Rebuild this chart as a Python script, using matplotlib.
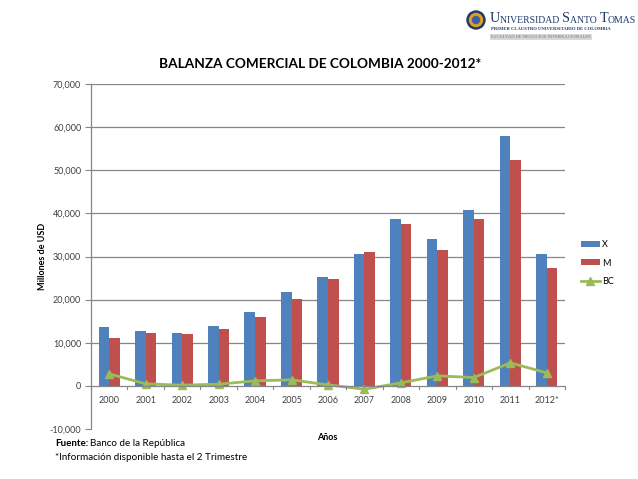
import matplotlib
matplotlib.use("Agg")
import matplotlib.pyplot as plt
import numpy as np
from matplotlib.ticker import FuncFormatter
from matplotlib.patches import Circle

plt.rcParams['font.family'] = ['Lato', 'DejaVu Sans']

# datos (millones de USD)
years = ['2000', '2001', '2002', '2003', '2004', '2005', '2006',
         '2007', '2008', '2009', '2010', '2011', '2012*']
exports = [13720, 12790, 12330, 13800, 17210, 21780, 25190,
           30620, 38590, 34030, 40840, 57850, 30630]
imports = [11090, 12250, 12020, 13260, 15890, 20230, 24880,
           31160, 37590, 31480, 38670, 52280, 27300]
balance = [2790, 470, 160, 390, 1160, 1400, 230,
           -780, 700, 2320, 1930, 5340, 3020]

blue = '#4F81BD'
red = '#C0504D'
green = '#9BBB59'
grey = '#868686'

fig = plt.figure(figsize=(6.38, 4.79), dpi=100)
ax = fig.add_axes([0.1426, 0.1044, 0.7430, 0.7202])

x = np.arange(len(years))
w = 0.29
h1 = ax.bar(x - w / 2, exports, width=w, color=blue, label='X', zorder=3)
h2 = ax.bar(x + w / 2, imports, width=w, color=red, label='M', zorder=3)
h3, = ax.plot(x, balance, color=green, lw=2, marker='^', ms=6, label='BC', zorder=4)

ax.set_xlim(-0.5, len(years) - 0.5)
ax.set_ylim(-10000, 70000)
ax.set_yticks(np.arange(-10000, 70001, 10000))
ax.yaxis.set_major_formatter(FuncFormatter(lambda v, p: f'{int(v):,}'))
ax.tick_params(axis='y', labelsize=6.5, colors='#404040', length=4,
               width=0.8, direction='out', pad=3)
ax.tick_params(axis='y', color=grey)

# gridlines (sin linea en -10,000)
for v in range(10000, 70001, 10000):
    ax.axhline(v, color=grey, lw=0.9, zorder=1)

# eje x cruzando en 0
ax.axhline(0, color=grey, lw=0.9, zorder=5)
ax.set_xticks([])
for b in np.arange(-0.5, len(years), 1.0):
    ax.plot([b, b], [0, -800], color=grey, lw=0.8, zorder=5, clip_on=False)
for i, yr in enumerate(years):
    ax.text(i, -3300, yr, ha='center', va='center', fontsize=6.5, color='#404040')

for s in ['top', 'right', 'bottom']:
    ax.spines[s].set_visible(False)
ax.spines['left'].set_color(grey)
ax.spines['left'].set_linewidth(0.9)

ax.set_ylabel('Millones de USD', fontsize=6.5, fontweight='bold', labelpad=2)
fig.text(327 / 638, 1 - 437 / 479, 'Años', ha='center', va='center',
         fontsize=6.5, fontweight='bold')

fig.text(320 / 638, 1 - 64 / 479, 'BALANZA COMERCIAL DE COLOMBIA 2000-2012*',
         ha='center', va='center', fontsize=9.8, fontweight='bold')

fig.legend([h1, h2, h3], ['X', 'M', 'BC'], loc='center left',
           bbox_to_anchor=(576 / 638, 1 - 263 / 479),
           frameon=False, fontsize=6.5, handlelength=2.2,
           handleheight=0.6, labelspacing=1.0, handletextpad=0.2,
           borderpad=0)

# nota al pie
fs = 7.1
fig.text(55 / 638, 1 - 443 / 479, 'Fuente:', fontsize=fs, fontweight='bold',
         va='center')
fig.text(90 / 638, 1 - 443 / 479, 'Banco de la República', fontsize=fs,
         va='center')
fig.text(55 / 638, 1 - 458 / 479, '*Información disponible hasta el 2 Trimestre',
         fontsize=fs, va='center')

# logo (aproximado)
lax = fig.add_axes([460 / 638, 1 - 45 / 479, 178 / 638, 45 / 479])
lax.set_xlim(460, 638)
lax.set_ylim(45, 0)
lax.axis('off')
lax.add_patch(Circle((476, 20), 9, color='#1F3A6B'))
lax.add_patch(Circle((476, 20), 6.5, color='#E0A020'))
lax.add_patch(Circle((476, 20), 3.5, color='#3C5FA0'))

navy = '#1F3A6B'
parts = [('U', 10.2), ('NIVERSIDAD ', 7.0), ('S', 10.2), ('ANTO ', 7.0),
         ('T', 10.2), ('OMAS', 7.0)]
prev = lax.text(490, 22, parts[0][0], family='Liberation Serif',
                fontsize=parts[0][1], color=navy, va='baseline', ha='left')
for txt, sz in parts[1:]:
    prev = lax.annotate(txt, xy=(1, 0), xycoords=prev, va='bottom', ha='left',
                        family='Liberation Serif', fontsize=sz, color=navy)
lax.text(491, 28.5, 'PRIMER CLAUSTRO UNIVERSITARIO DE COLOMBIA',
         family='Liberation Serif', fontsize=3.3, fontweight='bold',
         color=navy, va='center')
lax.text(491, 37, 'FACULTAD DE NEGOCIOS INTERNACIONALES',
         family='Liberation Serif', fontsize=3.3, color='#6A7080', va='center',
         bbox=dict(boxstyle='square,pad=0.25', fc='#D8D8D8', ec='none'))

fig.savefig('out.png', dpi=100)
